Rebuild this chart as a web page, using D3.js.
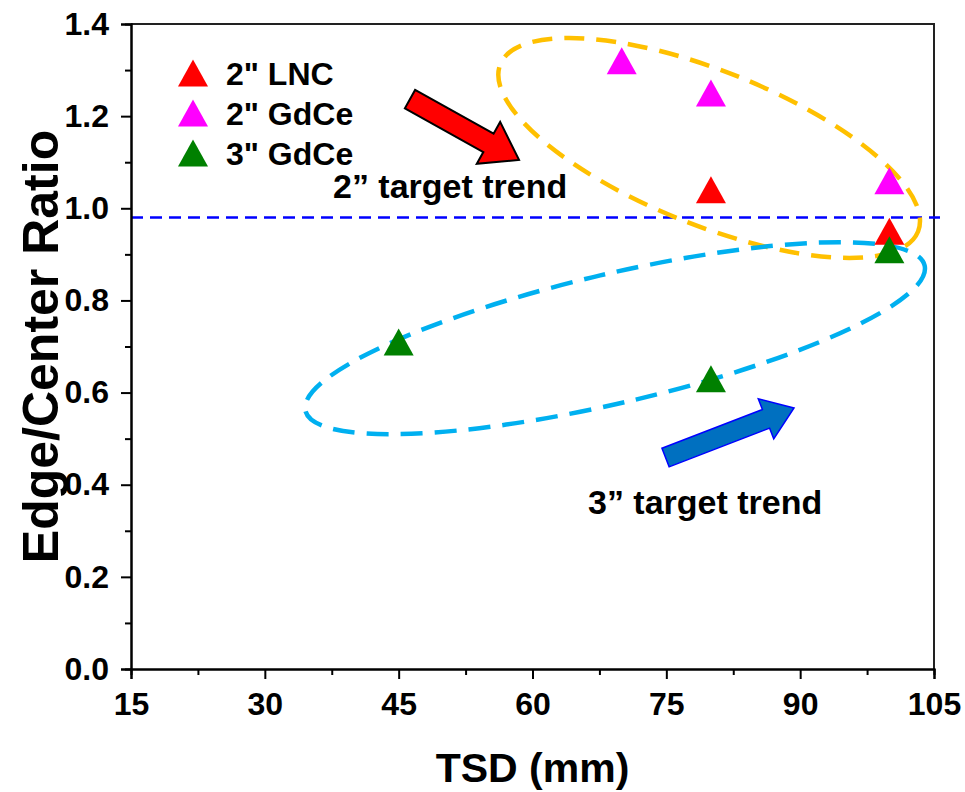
<!DOCTYPE html>
<html>
<head>
<meta charset="utf-8">
<script src="https://cdn.jsdelivr.net/npm/d3@7"></script>
<style>
  body { margin: 0; background: #fff; }
  text { font-family: Arial, "Liberation Sans", sans-serif; font-weight: bold; fill: #000; }
</style>
</head>
<body>
<svg id="chart" width="965" height="792"></svg>
<script>
// Target-to-substrate distance (mm) and edge/center thickness ratio per target
const seriesNames = ['2" LNC', '2" GdCe', '3" GdCe'];
const seriesColors = ["#ff0000", "#ff00ff", "#008000"];
const tsdLNC2 = [80, 100];
const ratioLNC2 = [1.04, 0.95];
const tsdGdCe2 = [70, 80, 100];
const ratioGdCe2 = [1.32, 1.25, 1.06];
const tsdGdCe3 = [45, 80, 100];
const ratioGdCe3 = [0.71, 0.63, 0.91];
const referenceRatio = 0.98;

const xTicks = [15, 30, 45, 60, 75, 90, 105];
const yTicks = [0.0, 0.2, 0.4, 0.6, 0.8, 1.0, 1.2, 1.4];

const series = [
  { name: seriesNames[0], color: seriesColors[0], xs: tsdLNC2, ys: ratioLNC2 },
  { name: seriesNames[1], color: seriesColors[1], xs: tsdGdCe2, ys: ratioGdCe2 },
  { name: seriesNames[2], color: seriesColors[2], xs: tsdGdCe3, ys: ratioGdCe3 }
];

const svg = d3.select("#chart");
const margin = { left: 131, right: 31, top: 24, bottom: 123 };
const W = 965, H = 792;
const x = d3.scaleLinear().domain([15, 105]).range([margin.left, W - margin.right]);
const y = d3.scaleLinear().domain([0, 1.4]).range([H - margin.bottom, margin.top]);

// Frame (top and right edges without ticks)
svg.append("path")
  .attr("d", `M${x(15)},${y(1.4)}H${x(105)}V${y(0)}`)
  .attr("fill", "none").attr("stroke", "#222").attr("stroke-width", 2);

// Reference line at the 2" target trend level
svg.append("line")
  .attr("x1", x(15)).attr("x2", x(105) + 6)
  .attr("y1", y(referenceRatio)).attr("y2", y(referenceRatio))
  .attr("stroke", "#0000ff").attr("stroke-width", 2.5)
  .attr("stroke-dasharray", "12,7");

// Axes
const xAxis = d3.axisBottom(x).tickValues(xTicks).tickSize(10).tickPadding(13).tickFormat(d3.format("d"));
const xMinor = d3.axisBottom(x).tickValues(d3.range(22.5, 105, 15)).tickSize(6).tickFormat("");
const yAxis = d3.axisLeft(y).tickValues(yTicks).tickSize(10).tickPadding(12).tickFormat(d3.format(".1f"));
const yMinor = d3.axisLeft(y).tickValues(d3.range(0.1, 1.4, 0.2)).tickSize(6).tickFormat("");

function styleAxis(g) {
  g.select(".domain").attr("stroke", "#000").attr("stroke-width", 2);
  g.selectAll(".tick line").attr("stroke", "#000").attr("stroke-width", 2);
  g.selectAll(".tick text").attr("font-size", 32).attr("font-family", "Arial, 'Liberation Sans', sans-serif").attr("font-weight", "bold").attr("fill", "#000");
}
svg.append("g").attr("transform", `translate(0,${y(0)})`).call(xMinor).call(styleAxis);
svg.append("g").attr("transform", `translate(0,${y(0)})`).call(xAxis).call(styleAxis);
svg.append("g").attr("transform", `translate(${x(15)},0)`).call(yMinor).call(styleAxis);
svg.append("g").attr("transform", `translate(${x(15)},0)`).call(yAxis).call(styleAxis);

// Axis titles
svg.append("text").attr("x", (x(15) + x(105)) / 2).attr("y", 782)
  .attr("text-anchor", "middle").attr("font-size", 41).text("TSD (mm)");
svg.append("text").attr("transform", `translate(58,${(y(0) + y(1.4)) / 2}) rotate(-90)`)
  .attr("text-anchor", "middle").attr("font-size", 50).text("Edge/Center Ratio");

// Dashed grouping ellipses
function ellipse(cx, cy, rx, ry, angle, color, dash) {
  svg.append("ellipse")
    .attr("cx", 0).attr("cy", 0).attr("rx", rx).attr("ry", ry)
    .attr("transform", `translate(${x(cx)},${y(cy)}) rotate(${angle})`)
    .attr("fill", "none").attr("stroke", color).attr("stroke-width", 4.5)
    .attr("stroke-dasharray", dash);
}
ellipse(79.8, 1.131, 225, 77, 21.8, "#ffc000", "20,12");
ellipse(69.25, 0.718, 318, 64.5, -13.2, "#00b0f0", "22,12");

// Block arrows showing the trend direction
function blockArrow(x0, y0, x1, y1, shaftHalf, headHalf, headLen, fill, stroke, sw) {
  const px0 = x(x0), py0 = y(y0), px1 = x(x1), py1 = y(y1);
  const len = Math.hypot(px1 - px0, py1 - py0);
  const ang = Math.atan2(py1 - py0, px1 - px0) * 180 / Math.PI;
  const s = len - headLen;
  const pts = [[0, -shaftHalf], [s, -shaftHalf], [s, -headHalf], [len, 0], [s, headHalf], [s, shaftHalf], [0, shaftHalf]];
  svg.append("path")
    .attr("d", d3.line()(pts) + "Z")
    .attr("transform", `translate(${px0},${py0}) rotate(${ang})`)
    .attr("fill", fill).attr("stroke", stroke).attr("stroke-width", sw)
    .attr("stroke-linejoin", "miter");
}
blockArrow(46.27, 1.237, 58.49, 1.105, 10.5, 24, 35, "#ff0000", "#000", 2);
blockArrow(74.91, 0.459, 89.31, 0.5665, 10, 21.5, 30, "#0070c0", "#0000ff", 1.5);

// Triangle markers
function triangle(g, cx, cy, color) {
  const w = 30, h = 27;
  g.append("path")
    .attr("d", `M${cx},${cy - h / 2}L${cx + w / 2},${cy + h / 2}L${cx - w / 2},${cy + h / 2}Z`)
    .attr("fill", color);
}
const marks = svg.append("g");
series.forEach(s => {
  s.xs.forEach((v, i) => triangle(marks, x(v), y(s.ys[i]), s.color));
});

// Legend
const legend = svg.append("g");
series.forEach((s, i) => {
  const ly = 73 + i * 40;
  triangle(legend, 193, ly, s.color);
  legend.append("text").attr("x", 226).attr("y", ly).attr("dy", "0.36em")
    .attr("font-size", 32).text(s.name);
});

// Trend labels
svg.append("text").attr("x", 333).attr("y", 198).attr("font-size", 34).text("2\u201D target trend");
svg.append("text").attr("x", 588).attr("y", 514).attr("font-size", 34).text("3\u201D target trend");
</script>
</body>
</html>
